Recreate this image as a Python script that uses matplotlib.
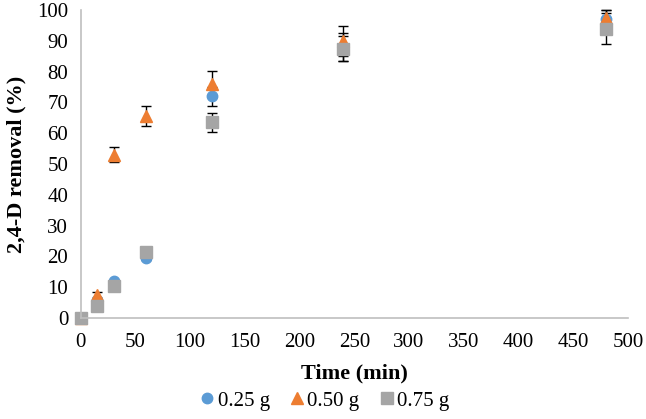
import numpy as np
import matplotlib.pyplot as plt

plt.rcParams['font.family'] = ['Liberation Serif', 'DejaVu Serif']

# Data
time = [0, 15, 30, 60, 120, 240, 480]
labels = ['0.25 g', '0.50 g', '0.75 g']
removal_025 = [0, 6, 12, 19.5, 72, 88, 97]
removal_050 = [0, 7.5, 53, 65.5, 76, 90, 97.5]
removal_075 = [0, 4, 10.5, 21.5, 63.5, 87.5, 94]
err_025 = [0, 0.5, 0.5, 0.5, 3, 4.5, 3]
err_050 = [0, 1, 2.5, 3.2, 4.2, 4.8, 2.5]
err_075 = [0, 0.5, 0.5, 0.5, 3, 4, 5]

fig = plt.figure(figsize=(6.46, 4.19), dpi=100)
ax = fig.add_axes([0.125, 0.241, 0.847, 0.735])

series = [
    (removal_025, err_025, 'o', '#5B9BD5', 7.5),
    (removal_050, err_050, '^', '#ED7D31', 8.5),
    (removal_075, err_075, 's', '#A5A5A5', 8),
]
for (vals, errs, mk, col, ms), lab in zip(series, labels):
    ax.errorbar(time, vals, yerr=errs, fmt=mk, color=col, ms=ms,
                ecolor='black', elinewidth=1, capsize=3.5, capthick=1,
                label=lab, clip_on=False)

ax.set_xlim(0, 500)
ax.set_ylim(0, 100)
ax.set_xticks(np.arange(0, 501, 50))
ax.set_yticks(np.arange(0, 101, 10))
ax.tick_params(length=0, labelsize=15)
ax.tick_params(axis='x', pad=11)
ax.tick_params(axis='y', pad=9)

for s in ['top', 'right']:
    ax.spines[s].set_visible(False)
for s in ['left', 'bottom']:
    ax.spines[s].set_color('#BFBFBF')
    ax.spines[s].set_linewidth(1.2)

ax.set_xlabel('Time (min)', fontsize=16, fontweight='bold', labelpad=8)
ax.set_ylabel('2,4-D removal (%)', fontsize=16, fontweight='bold', labelpad=8)

handles, labs = ax.get_legend_handles_labels()
handles = [h[0] for h in handles]
fig.legend(handles, labs, loc='lower center', bbox_to_anchor=(0.5, -0.025),
           ncol=3, frameon=False, fontsize=15, handletextpad=0.0,
           columnspacing=0.8, handlelength=1.0)

fig.savefig('out.png', dpi=100)
